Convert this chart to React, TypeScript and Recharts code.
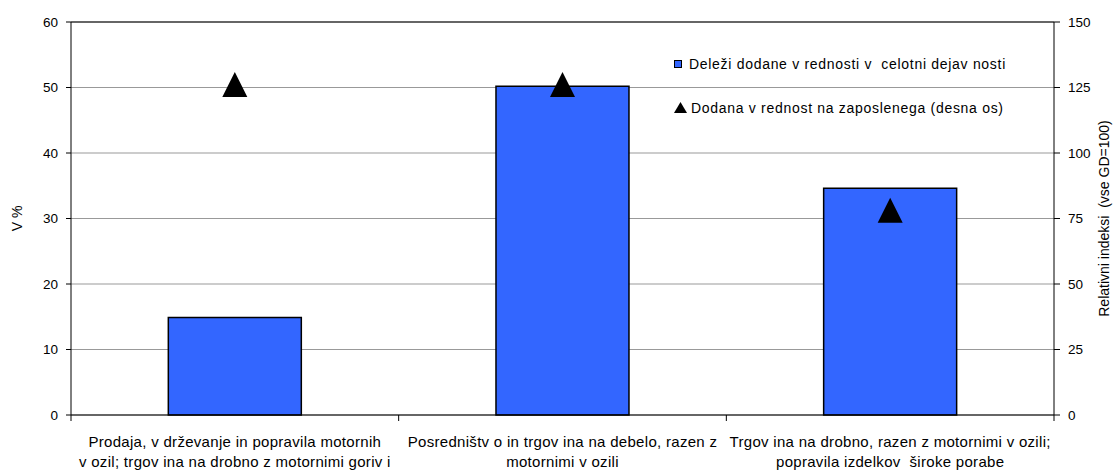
import {
  ComposedChart,
  Bar,
  Line,
  XAxis,
  YAxis,
  CartesianGrid,
  ReferenceLine,
  Legend,
} from "recharts";

const categories = [
  "Prodaja, v drževanje in popravila motornih\nv ozil; trgov ina na drobno z motornimi goriv i",
  "Posredništv o in trgov ina na debelo, razen z\nmotornimi v ozili",
  "Trgov ina na drobno, razen z motornimi v ozili;\npopravila izdelkov  široke porabe",
];
const shares = [14.9, 50.2, 34.6];
const relIndex = [126, 126, 78];
const leftTicks = [0, 10, 20, 30, 40, 50, 60];
const rightTicks = [0, 25, 50, 75, 100, 125, 150];

const shareName = "Deleži dodane v rednosti v  celotni dejav nosti";
const relName = "Dodana v rednost na zaposlenega (desna os)";

const data = categories.map((c, i) => ({
  name: c,
  share: shares[i],
  rel: relIndex[i],
}));

const FONT = "'Liberation Sans', Arial, sans-serif";

const Triangle = (props: any) => {
  const { cx, cy, index } = props;
  if (cx == null || cy == null) return null;
  return (
    <polygon
      key={"tri" + index}
      points={`${cx},${cy - 13} ${cx - 12.5},${cy + 12} ${cx + 12.5},${cy + 12}`}
      fill="#000"
    />
  );
};

// category label plus tick marks on the category boundaries
const CategoryTick = (props: any) => {
  const { x, y, payload, width, index } = props;
  const lines = String(payload.value).split("\n");
  const half = width / categories.length / 2;
  return (
    <g>
      <line x1={x - half} x2={x - half} y1={y} y2={y + 6} stroke="#000" />
      {index === categories.length - 1 && (
        <line x1={x + half} x2={x + half} y1={y} y2={y + 6} stroke="#000" />
      )}
      <text
        x={x}
        y={y}
        textAnchor="middle"
        fontSize={15}
        fill="#000"
        letterSpacing={0.3}
        style={{ whiteSpace: "pre" }}
      >
        {lines.map((l, i) => (
          <tspan key={i} x={x} y={y + 32 + i * 20}>
            {l}
          </tspan>
        ))}
      </text>
    </g>
  );
};

const renderLegend = () => (
  <div style={{ fontFamily: FONT, fontSize: 14, color: "#000", letterSpacing: 0.7 }}>
    <div style={{ display: "flex", alignItems: "center", height: 20, whiteSpace: "pre" }}>
      <span
        style={{
          display: "inline-block",
          width: 6,
          height: 6,
          background: "#3366FF",
          border: "1px solid #000",
          marginRight: 7,
        }}
      />
      {shareName}
    </div>
    <div style={{ display: "flex", alignItems: "center", height: 20, marginTop: 24, whiteSpace: "pre" }}>
      <svg width={14} height={12} style={{ marginRight: 3 }}>
        <polygon points="6.5,0 0,11 13,11" fill="#000" />
      </svg>
      {relName}
    </div>
  </div>
);

const sideLabel = (text: string, dx: number) => (p: any) => {
  const vb = p.viewBox;
  const x = vb.x + dx;
  const y = vb.y + vb.height / 2;
  return (
    <text
      x={x}
      y={y}
      transform={`rotate(-90, ${x}, ${y})`}
      textAnchor="middle"
      dominantBaseline="central"
      fontSize={14}
      fill="#000"
      style={{ whiteSpace: "pre" }}
    >
      {text}
    </text>
  );
};

export default function App() {
  return (
    <div style={{ position: "absolute", left: 0, top: 0, background: "#fff" }}>
      <ComposedChart
        width={1117}
        height={471}
        data={data}
        margin={{ top: 22, right: 0, bottom: 0, left: 0 }}
        barCategoryGap="29.7%"
        style={{ fontFamily: FONT }}
      >
        <CartesianGrid yAxisId="left" xAxisId="cat" vertical={false} stroke="#999" />
        <XAxis
          xAxisId="cat"
          dataKey="name"
          interval={0}
          tickLine={false}
          tickSize={0}
          tickMargin={0}
          axisLine={{ stroke: "#000" }}
          tick={<CategoryTick />}
          height={56}
        />
        <YAxis
          yAxisId="left"
          domain={[0, 60]}
          ticks={leftTicks}
          width={71}
          tickSize={5}
          tickMargin={8}
          axisLine={{ stroke: "#000" }}
          tickLine={{ stroke: "#000" }}
          tick={{ fill: "#000", fontSize: 13.5 }}
          label={sideLabel("V %", 17)}
        />
        <YAxis
          yAxisId="right"
          orientation="right"
          domain={[0, 150]}
          ticks={rightTicks}
          width={63}
          tickSize={6}
          tickMargin={8}
          axisLine={{ stroke: "#000" }}
          tickLine={{ stroke: "#000" }}
          tick={{ fill: "#000", fontSize: 13.5 }}
          label={sideLabel("Relativni indeksi  (vse GD=100)", 50)}
        />
        <ReferenceLine yAxisId="left" xAxisId="cat" y={60} stroke="#000" />
        <Bar
          xAxisId="cat"
          yAxisId="left"
          dataKey="share"
          name={shareName}
          fill="#3366FF"
          stroke="#000"
          strokeWidth={1.5}
          isAnimationActive={false}
        />
        <Line
          xAxisId="cat"
          yAxisId="right"
          dataKey="rel"
          name={relName}
          stroke="none"
          dot={Triangle}
          activeDot={false}
          isAnimationActive={false}
        />
        <Legend
          layout="vertical"
          verticalAlign="middle"
          align="center"
          content={renderLegend}
          wrapperStyle={{ left: 674, top: 54, width: 420 }}
        />
      </ComposedChart>
    </div>
  );
}
